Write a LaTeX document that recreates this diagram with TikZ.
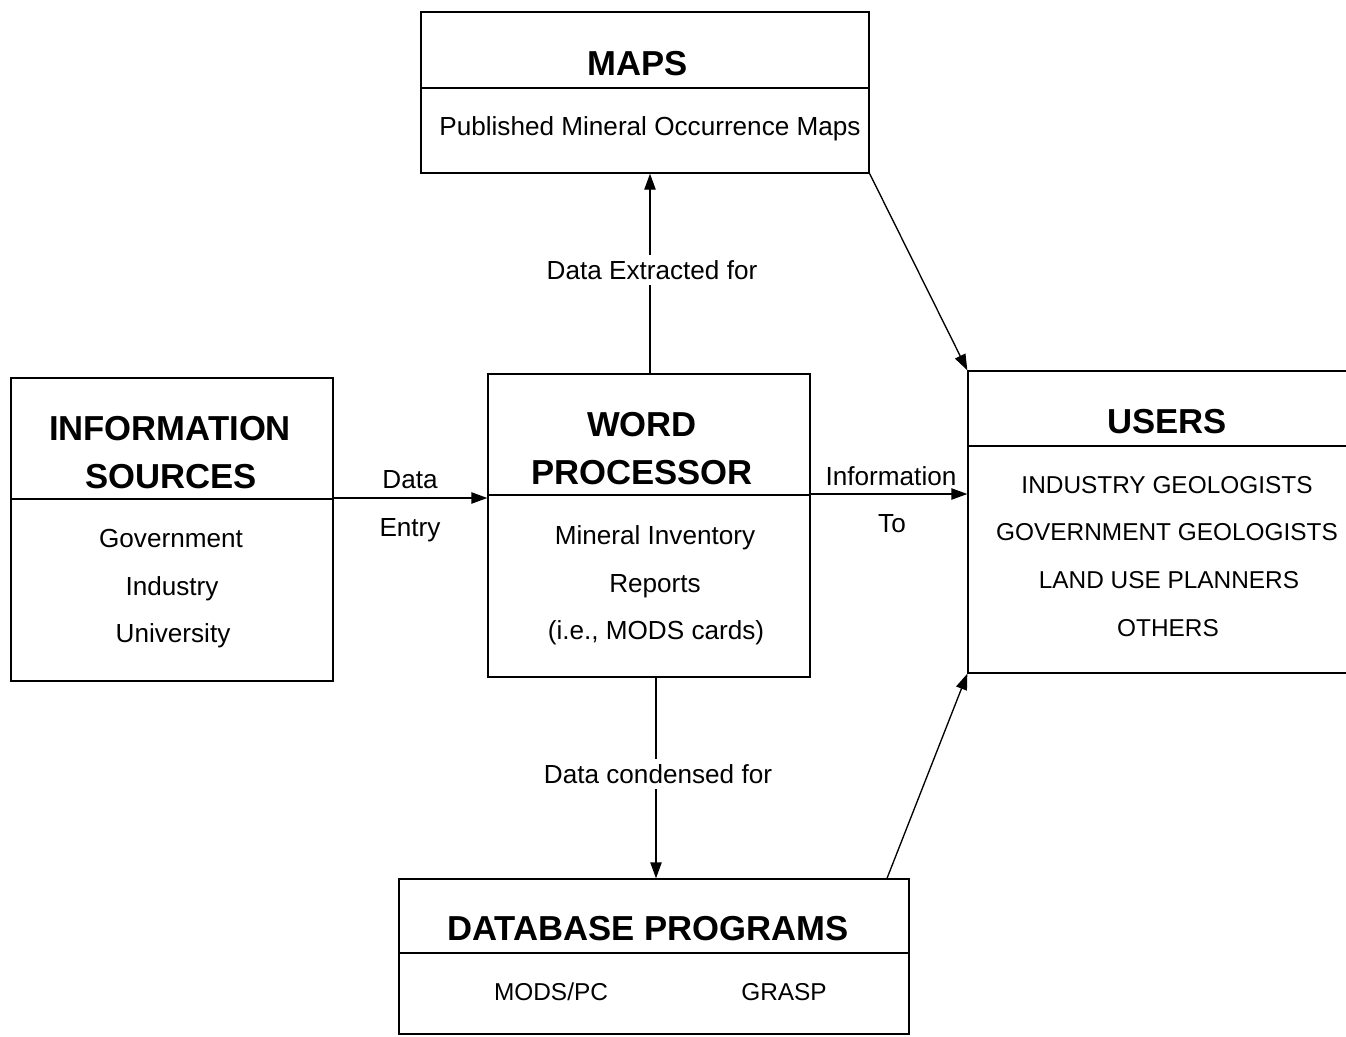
\documentclass[tikz,border=0pt]{standalone}
\usepackage{fontspec}
\setmainfont{Liberation Sans}
\usetikzlibrary{arrows.meta,fit}
\begin{document}
\begin{tikzpicture}[x=0.75pt,y=-0.75pt,
  line width=1pt,
  box/.style={draw, inner sep=0pt, line width=1pt},
  div/.style={line width=1pt},
  arr/.style={line width=1pt, -{Triangle[length=12pt,width=8.5pt]}},
  ttl/.style={font=\fontsize{26}{30}\selectfont\bfseries, anchor=base, inner sep=0pt},
  txt/.style={font=\fontsize{19.6}{23}\selectfont, anchor=base, inner sep=0pt},
  capstext/.style={font=\fontsize{18.3}{22}\selectfont, anchor=base, inner sep=0pt},
  lbl/.style={font=\fontsize{19.6}{23}\selectfont, anchor=base, inner sep=0pt, fill=white, inner ysep=4pt, inner xsep=2pt}]
\useasboundingbox (0,0) rectangle (1346,1036);
\clip (0,0) rectangle (1346,1036);
\fill[white] (0,0) rectangle (1346,1036);

% corner coordinates
\coordinate (m1) at (421,12);   \coordinate (m2) at (869,173);
\coordinate (i1) at (11,378);   \coordinate (i2) at (333,681);
\coordinate (w1) at (488,374);  \coordinate (w2) at (810,677);
\coordinate (u1) at (968,371);  \coordinate (u2) at (1370,673);
\coordinate (d1) at (399,879);  \coordinate (d2) at (909,1034);

% boxes
\node[box, fit=(m1)(m2)] (maps) {};
\node[box, fit=(i1)(i2)] (info) {};
\node[box, fit=(w1)(w2)] (wp) {};
\node[box, fit=(u1)(u2)] (users) {};
\node[box, fit=(d1)(d2)] (db) {};

% dividers
\coordinate (mdiv) at (0,88);
\coordinate (idiv) at (0,499);
\coordinate (wdiv) at (0,495);
\coordinate (udiv) at (0,446);
\coordinate (ddiv) at (0,953);
\draw[div] (maps.west |- mdiv) -- (maps.east |- mdiv);
\draw[div] (info.west |- idiv) -- (info.east |- idiv);
\draw[div] (wp.west |- wdiv) -- (wp.east |- wdiv);
\draw[div] (users.west |- udiv) -- (users.east |- udiv);
\draw[div] (db.west |- ddiv) -- (db.east |- ddiv);

% texts
\node[ttl] (tmaps) at (638,75) {MAPS};
\node[txt] (tpub) at (650,135) {Published Mineral Occurrence Maps};

\node[ttl] (tinfo1) at (170,440) {INFORMATION};
\node[ttl] (tinfo2) at (171,488) {SOURCES};
\node[txt] (tgov) at (171,547) {Government};
\node[txt] (tind) at (172,595) {Industry};
\node[txt] (tuni) at (173,642) {University};

\node[ttl] (twp1) at (642,436) {WORD};
\node[ttl] (twp2) at (642,484) {PROCESSOR};
\node[txt] (tmi) at (655,544) {Mineral Inventory};
\node[txt] (trep) at (655,592) {Reports};
\node[txt] (tie) at (656,639) {(i.e., MODS cards)};

\node[ttl] (tusers) at (1167,433) {USERS};
\node[capstext] (tu1) at (1167,493) {INDUSTRY GEOLOGISTS};
\node[capstext] (tu2) at (1167,540) {GOVERNMENT GEOLOGISTS};
\node[capstext] (tu3) at (1169,588) {LAND USE PLANNERS};
\node[capstext] (tu4) at (1168,636) {OTHERS};

\node[ttl] (tdb) at (648,940) {DATABASE PROGRAMS};
\node[capstext] (tdb1) at (551,1000) {MODS/PC};
\node[capstext] (tdb2) at (784,1000) {GRASP};

% connectors
\coordinate (ya) at (0,498);
\coordinate (yb) at (0,494);
\coordinate (xa) at (650,0);
\coordinate (xb) at (656,0);
\coordinate (xc) at (887,0);
\draw[arr] (info.east |- ya) -- (wp.west |- ya);
\draw[arr] (wp.east |- yb) -- (users.west |- yb);
\draw[arr] (wp.north -| xa) -- (maps.south -| xa);
\draw[arr] (wp.south -| xb) -- (db.north -| xb);
\draw[arr] (maps.south east) -- (users.north west);
\draw[arr] (db.north -| xc) -- (users.south west);

% connector labels
\node[txt] (lde1) at (410,488) {Data};
\node[txt] (lde2) at (410,536) {Entry};
\node[txt] (lit1) at (891,485) {Information};
\node[txt] (lit2) at (892,532) {To};
\node[lbl] (lext) at (652,279) {Data Extracted for};
\node[lbl] (lcon) at (658,783) {Data condensed for};
\end{tikzpicture}
\end{document}
